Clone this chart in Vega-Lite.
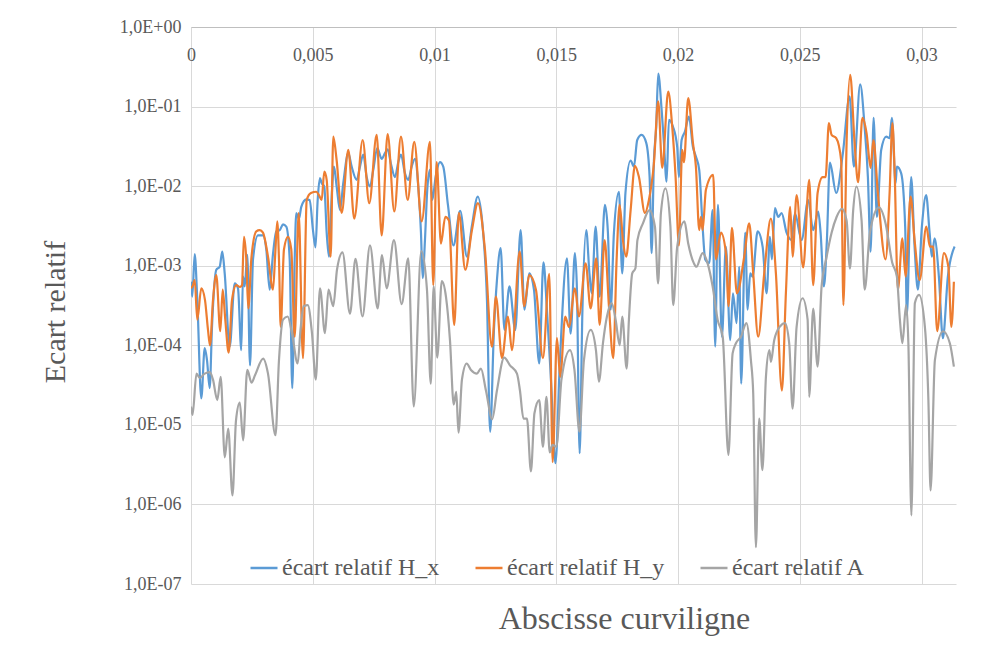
{
  "$schema": "https://vega.github.io/schema/vega-lite/v6.json",
  "width": 765,
  "height": 557,
  "autosize": {"type": "none"},
  "padding": {"left": 191, "top": 27, "right": 33, "bottom": 62},
  "background": "#ffffff",
  "config": {
    "font": "Liberation Serif",
    "view": {"stroke": null},
    "axis": {"labelFont": "Liberation Serif", "titleFont": "Liberation Serif"},
    "legend": {"labelFont": "Liberation Serif"}
  },
  "datasets": {
    "hx": [
      {"x":0,"y":6.3e-4},{"x":0.0000534,"y":4.1e-4},{"x":0.000152,"y":1.4e-3},{"x":0.000259,"y":3.7e-4},{"x":0.000423,"y":2.15e-5},{"x":0.000563,"y":9.2e-5},{"x":0.000657,"y":6.5e-5},{"x":0.000768,"y":2.9e-5},{"x":0.000862,"y":1.7e-4},{"x":0.001039,"y":8.9e-4},{"x":0.001178,"y":9.7e-4},{"x":0.001285,"y":1.5e-3},{"x":0.001384,"y":8.0e-4},{"x":0.001589,"y":9.6e-5},{"x":0.001794,"y":6.0e-4},{"x":0.00193,"y":5.2e-4},{"x":0.002065,"y":8.7e-5},{"x":0.002135,"y":7.3e-4},{"x":0.002205,"y":5.5e-4},{"x":0.002312,"y":1.37e-3},{"x":0.002423,"y":5.6e-5},{"x":0.002546,"y":1.2e-3},{"x":0.002751,"y":2.4e-3},{"x":0.002956,"y":2.4e-3},{"x":0.003092,"y":1.6e-3},{"x":0.003231,"y":5.0e-4},{"x":0.003367,"y":1.4e-3},{"x":0.003502,"y":2.7e-3},{"x":0.003642,"y":2.8e-3},{"x":0.003778,"y":3.3e-3},{"x":0.003913,"y":3.1e-3},{"x":0.004053,"y":1.2e-3},{"x":0.004159,"y":2.9e-5},{"x":0.004258,"y":1.2e-3},{"x":0.004324,"y":4.6e-3},{"x":0.004434,"y":3.9e-3},{"x":0.004529,"y":5.5e-3},{"x":0.004734,"y":6.8e-3},{"x":0.004874,"y":6.7e-3},{"x":0.005009,"y":2.8e-3},{"x":0.005112,"y":1.7e-3},{"x":0.005202,"y":6.7e-3},{"x":0.005297,"y":1.26e-2},{"x":0.005366,"y":1.09e-2},{"x":0.005473,"y":9.9e-3},{"x":0.005572,"y":2.6e-3},{"x":0.005666,"y":1.3e-3},{"x":0.005777,"y":7.4e-3},{"x":0.005872,"y":1.76e-2},{"x":0.005982,"y":9.9e-3},{"x":0.006118,"y":5.0e-3},{"x":0.006253,"y":1.09e-2},{"x":0.006459,"y":2.6e-2},{"x":0.006598,"y":1.76e-2},{"x":0.006804,"y":1.2e-2},{"x":0.006939,"y":1.76e-2},{"x":0.007075,"y":2.5e-2},{"x":0.007214,"y":1.3e-2},{"x":0.00735,"y":9.9e-3},{"x":0.007485,"y":1.6e-2},{"x":0.00765,"y":3.0e-2},{"x":0.00783,"y":2.2e-2},{"x":0.007966,"y":2.6e-2},{"x":0.008076,"y":2.9e-2},{"x":0.008212,"y":1.9e-2},{"x":0.008376,"y":1.3e-2},{"x":0.008512,"y":2.0e-2},{"x":0.008623,"y":2.5e-2},{"x":0.008787,"y":1.45e-2},{"x":0.008922,"y":1.2e-2},{"x":0.009062,"y":1.76e-2},{"x":0.009197,"y":2.2e-2},{"x":0.009333,"y":9.9e-3},{"x":0.009444,"y":2.6e-3},{"x":0.009514,"y":7.0e-4},{"x":0.009608,"y":2.1e-3},{"x":0.009702,"y":9.0e-3},{"x":0.009813,"y":1.6e-2},{"x":0.009908,"y":6.7e-3},{"x":0.010047,"y":1.3e-2},{"x":0.010224,"y":2.0e-2},{"x":0.010359,"y":1.76e-2},{"x":0.010552,"y":5.8e-3},{"x":0.010778,"y":1.8e-3},{"x":0.011053,"y":4.9e-3},{"x":0.011333,"y":1.3e-3},{"x":0.011538,"y":3.2e-3},{"x":0.011776,"y":7.4e-3},{"x":0.011989,"y":2.8e-3},{"x":0.012154,"y":3.7e-4},{"x":0.012285,"y":8.2e-6},{"x":0.012441,"y":1.56e-4},{"x":0.012564,"y":6.6e-4},{"x":0.012716,"y":1.66e-3},{"x":0.012872,"y":1.56e-4},{"x":0.013078,"y":5.5e-4},{"x":0.013316,"y":1.56e-4},{"x":0.013537,"y":2.8e-3},{"x":0.013693,"y":2.8e-4},{"x":0.013891,"y":8.0e-4},{"x":0.014084,"y":5.0e-4},{"x":0.014301,"y":5.9e-5},{"x":0.014474,"y":1.1e-3},{"x":0.014617,"y":2.8e-4},{"x":0.014782,"y":3.7e-5},{"x":0.014966,"y":3.3e-6},{"x":0.015151,"y":6.5e-5},{"x":0.015439,"y":1.24e-3},{"x":0.01559,"y":1.4e-4},{"x":0.015767,"y":1.44e-3},{"x":0.015849,"y":5.0e-4},{"x":0.01596,"y":4.4e-6},{"x":0.016075,"y":2.8e-4},{"x":0.016231,"y":2.8e-3},{"x":0.016362,"y":8.1e-4},{"x":0.016453,"y":4.5e-4},{"x":0.016617,"y":3.1e-3},{"x":0.016781,"y":4.1e-4},{"x":0.016999,"y":5.8e-3},{"x":0.017122,"y":2.6e-3},{"x":0.017233,"y":2.8e-4},{"x":0.017368,"y":2.6e-3},{"x":0.017574,"y":8.5e-3},{"x":0.017709,"y":8.0e-4},{"x":0.017841,"y":8.2e-3},{"x":0.018054,"y":2.1e-2},{"x":0.01819,"y":1.76e-2},{"x":0.018325,"y":3.8e-2},{"x":0.018506,"y":4.4e-2},{"x":0.018695,"y":3.5e-2},{"x":0.018834,"y":1.3e-2},{"x":0.018916,"y":1.44e-3},{"x":0.019011,"y":2.1e-2},{"x":0.019105,"y":5.6e-2},{"x":0.019187,"y":2.6e-1},{"x":0.019327,"y":9.1e-2},{"x":0.019421,"y":3.5e-2},{"x":0.019532,"y":1.14e-2},{"x":0.019627,"y":6.8e-2},{"x":0.019791,"y":5.6e-2},{"x":0.019967,"y":3.1e-2},{"x":0.020037,"y":1.3e-2},{"x":0.020148,"y":3.8e-2},{"x":0.020284,"y":4.85e-2},{"x":0.020448,"y":7.5e-2},{"x":0.020612,"y":3.1e-2},{"x":0.020735,"y":2.35e-2},{"x":0.020871,"y":1.6e-2},{"x":0.02101,"y":3.1e-3},{"x":0.021117,"y":1.2e-3},{"x":0.021281,"y":1.08e-3},{"x":0.021421,"y":5.0e-3},{"x":0.021528,"y":9.6e-5},{"x":0.021639,"y":5.8e-3},{"x":0.021803,"y":1.28e-4},{"x":0.021967,"y":1.74e-3},{"x":0.022144,"y":1.16e-4},{"x":0.022255,"y":4.5e-4},{"x":0.022406,"y":1.9e-4},{"x":0.022513,"y":9.7e-4},{"x":0.022595,"y":3.3e-5},{"x":0.02276,"y":2.6e-3},{"x":0.022858,"y":2.8e-4},{"x":0.022965,"y":8.0e-4},{"x":0.023063,"y":7.3e-4},{"x":0.023269,"y":2.7e-3},{"x":0.023474,"y":1.74e-3},{"x":0.023638,"y":4.5e-4},{"x":0.023774,"y":2.3e-3},{"x":0.023856,"y":1.2e-3},{"x":0.023979,"y":5.3e-3},{"x":0.024115,"y":4.1e-3},{"x":0.024254,"y":4.6e-3},{"x":0.024459,"y":2.6e-3},{"x":0.024665,"y":2.1e-3},{"x":0.0248,"y":4.6e-3},{"x":0.025075,"y":2.1e-3},{"x":0.025346,"y":6.7e-3},{"x":0.025551,"y":2.8e-3},{"x":0.025757,"y":4.8e-3},{"x":0.025855,"y":2.6e-3},{"x":0.025991,"y":5.5e-4},{"x":0.026114,"y":2.1e-3},{"x":0.026237,"y":1.97e-2},{"x":0.026496,"y":8.2e-3},{"x":0.026771,"y":2.6e-2},{"x":0.027046,"y":1.34e-1},{"x":0.027223,"y":1.76e-2},{"x":0.027481,"y":1.9e-1},{"x":0.027662,"y":5.6e-2},{"x":0.027798,"y":1.3e-2},{"x":0.027909,"y":1.5e-3},{"x":0.028032,"y":7.2e-2},{"x":0.028167,"y":4.1e-3},{"x":0.028344,"y":2.85e-2},{"x":0.028549,"y":4.2e-2},{"x":0.028689,"y":4.0e-2},{"x":0.028783,"y":7.2e-2},{"x":0.028935,"y":1.09e-2},{"x":0.028988,"y":1.76e-2},{"x":0.029165,"y":1.45e-2},{"x":0.029329,"y":3.1e-3},{"x":0.029399,"y":2.4e-4},{"x":0.029575,"y":1.3e-2},{"x":0.029715,"y":1.74e-3},{"x":0.02985,"y":5.0e-4},{"x":0.030015,"y":3.1e-3},{"x":0.030191,"y":7.7e-3},{"x":0.030331,"y":2.6e-3},{"x":0.030425,"y":1.3e-3},{"x":0.030536,"y":2.2e-3},{"x":0.030713,"y":7.3e-4},{"x":0.030877,"y":1.23e-4},{"x":0.031082,"y":7.3e-4},{"x":0.031357,"y":1.74e-3}
    ],
    "hy": [
      {"x":0,"y":5.2e-4},{"x":0.000082,"y":5.7e-4},{"x":0.000152,"y":6.6e-4},{"x":0.000259,"y":2.1e-4},{"x":0.000423,"y":5.2e-4},{"x":0.000575,"y":3.7e-4},{"x":0.000698,"y":1.56e-4},{"x":0.00078,"y":1.0e-4},{"x":0.000903,"y":3.7e-4},{"x":0.001039,"y":7.6e-4},{"x":0.001203,"y":1.5e-4},{"x":0.001302,"y":5.0e-4},{"x":0.001408,"y":2.1e-4},{"x":0.001548,"y":8.1e-5},{"x":0.001683,"y":3.7e-4},{"x":0.00186,"y":5.7e-4},{"x":0.002012,"y":5.4e-4},{"x":0.002094,"y":5.7e-4},{"x":0.002176,"y":2.3e-3},{"x":0.002271,"y":1.2e-3},{"x":0.002353,"y":2.9e-4},{"x":0.002476,"y":1.2e-3},{"x":0.002681,"y":2.7e-3},{"x":0.002821,"y":2.8e-3},{"x":0.002956,"y":2.6e-3},{"x":0.003162,"y":1.3e-3},{"x":0.003367,"y":5.0e-4},{"x":0.003461,"y":1.44e-3},{"x":0.003543,"y":3.6e-3},{"x":0.003613,"y":1.2e-3},{"x":0.003683,"y":1.7e-4},{"x":0.003818,"y":1.6e-3},{"x":0.003983,"y":2.3e-3},{"x":0.004118,"y":1.6e-3},{"x":0.004258,"y":1.28e-4},{"x":0.004422,"y":4.6e-3},{"x":0.004599,"y":6.9e-5},{"x":0.004751,"y":6.7e-3},{"x":0.004927,"y":8.2e-3},{"x":0.005145,"y":8.5e-3},{"x":0.005256,"y":7.7e-3},{"x":0.005366,"y":6.7e-3},{"x":0.005473,"y":1.52e-2},{"x":0.005572,"y":1.2e-2},{"x":0.005736,"y":1.3e-3},{"x":0.005843,"y":4.2e-2},{"x":0.005982,"y":2.1e-2},{"x":0.006188,"y":4.6e-3},{"x":0.006459,"y":2.85e-2},{"x":0.006705,"y":3.9e-3},{"x":0.00705,"y":3.8e-2},{"x":0.007321,"y":6.1e-3},{"x":0.007625,"y":4.4e-2},{"x":0.00783,"y":2.4e-3},{"x":0.008076,"y":4.5e-2},{"x":0.008348,"y":4.8e-3},{"x":0.008623,"y":4.2e-2},{"x":0.008898,"y":6.7e-3},{"x":0.009169,"y":3.6e-2},{"x":0.009473,"y":3.6e-3},{"x":0.009813,"y":3.6e-2},{"x":0.009949,"y":5.7e-4},{"x":0.010088,"y":2.0e-2},{"x":0.010265,"y":1.9e-3},{"x":0.010442,"y":4.1e-3},{"x":0.010593,"y":3.7e-3},{"x":0.010811,"y":1.8e-4},{"x":0.011,"y":4.6e-3},{"x":0.011263,"y":8.9e-4},{"x":0.011538,"y":2.8e-3},{"x":0.011784,"y":6.1e-3},{"x":0.012071,"y":1.6e-3},{"x":0.012359,"y":9.6e-5},{"x":0.012523,"y":4.1e-4},{"x":0.01277,"y":6.9e-5},{"x":0.013016,"y":2.3e-4},{"x":0.01318,"y":8.7e-5},{"x":0.013496,"y":1.5e-3},{"x":0.013685,"y":3.1e-4},{"x":0.013891,"y":7.6e-4},{"x":0.014166,"y":5.0e-4},{"x":0.014453,"y":6.9e-5},{"x":0.014712,"y":7.9e-4},{"x":0.014851,"y":3.4e-6},{"x":0.015028,"y":1.23e-4},{"x":0.015163,"y":4.0e-5},{"x":0.015369,"y":2.3e-4},{"x":0.015521,"y":1.7e-4},{"x":0.015767,"y":5.2e-4},{"x":0.015931,"y":2.3e-4},{"x":0.016206,"y":1.07e-3},{"x":0.016412,"y":2.9e-4},{"x":0.016642,"y":1.24e-3},{"x":0.016781,"y":1.8e-4},{"x":0.016986,"y":2.1e-3},{"x":0.017163,"y":3.1e-4},{"x":0.01734,"y":6.9e-5},{"x":0.017479,"y":1.2e-3},{"x":0.017602,"y":5.8e-3},{"x":0.017738,"y":2.1e-3},{"x":0.017873,"y":1.3e-3},{"x":0.018054,"y":5.0e-3},{"x":0.018231,"y":1.8e-2},{"x":0.018395,"y":1.3e-2},{"x":0.018641,"y":4.6e-3},{"x":0.018805,"y":6.7e-3},{"x":0.019011,"y":1.94e-2},{"x":0.019187,"y":1.16e-1},{"x":0.019351,"y":1.7e-2},{"x":0.019598,"y":1.54e-1},{"x":0.019762,"y":5.6e-2},{"x":0.019901,"y":1.3e-2},{"x":0.020037,"y":1.8e-3},{"x":0.020173,"y":2.85e-2},{"x":0.020243,"y":2.0e-2},{"x":0.020419,"y":1.28e-1},{"x":0.020612,"y":3.5e-2},{"x":0.020735,"y":1.76e-2},{"x":0.020871,"y":2.8e-3},{"x":0.020941,"y":4.1e-3},{"x":0.02101,"y":2.8e-3},{"x":0.021146,"y":9.0e-3},{"x":0.021445,"y":1.39e-2},{"x":0.021557,"y":1.2e-3},{"x":0.021762,"y":2.6e-3},{"x":0.021967,"y":1.44e-3},{"x":0.022078,"y":3.1e-4},{"x":0.022213,"y":3.0e-3},{"x":0.022419,"y":4.5e-4},{"x":0.022719,"y":1.3e-3},{"x":0.022924,"y":3.4e-3},{"x":0.023088,"y":8.0e-4},{"x":0.023293,"y":1.28e-4},{"x":0.02354,"y":8.0e-4},{"x":0.023815,"y":3.9e-3},{"x":0.02402,"y":8.0e-4},{"x":0.024266,"y":2.7e-5},{"x":0.02443,"y":4.5e-4},{"x":0.024607,"y":5.5e-3},{"x":0.024706,"y":1.3e-3},{"x":0.02487,"y":7.7e-3},{"x":0.025141,"y":9.5e-4},{"x":0.025387,"y":1.2e-2},{"x":0.025551,"y":5.7e-4},{"x":0.025732,"y":8.2e-3},{"x":0.025937,"y":1.3e-2},{"x":0.026061,"y":1.3e-2},{"x":0.026196,"y":6.2e-2},{"x":0.026307,"y":4.4e-2},{"x":0.026496,"y":4.0e-2},{"x":0.026701,"y":2.1e-2},{"x":0.026792,"y":3.2e-4},{"x":0.026923,"y":3.5e-2},{"x":0.027071,"y":2.5e-1},{"x":0.027251,"y":3.5e-2},{"x":0.027395,"y":1.12e-2},{"x":0.027572,"y":7.2e-2},{"x":0.027744,"y":4.6e-2},{"x":0.027909,"y":1.7e-2},{"x":0.028023,"y":3.8e-2},{"x":0.028208,"y":8.2e-3},{"x":0.028524,"y":1.2e-3},{"x":0.028689,"y":8.2e-3},{"x":0.028804,"y":6.2e-2},{"x":0.028894,"y":1.6e-2},{"x":0.029029,"y":5.0e-4},{"x":0.029214,"y":2.2e-3},{"x":0.029345,"y":7.3e-4},{"x":0.029551,"y":7.4e-3},{"x":0.029715,"y":2.1e-3},{"x":0.029924,"y":6.6e-4},{"x":0.030199,"y":3.1e-3},{"x":0.030343,"y":1.74e-3},{"x":0.030479,"y":1.74e-3},{"x":0.030643,"y":1.5e-4},{"x":0.030918,"y":1.44e-3},{"x":0.031103,"y":9.7e-4},{"x":0.031226,"y":1.7e-4},{"x":0.031329,"y":6.3e-4}
    ],
    "a": [
      {"x":0,"y":1.7e-5},{"x":0.000062,"y":1.33e-5},{"x":0.000226,"y":4.4e-5},{"x":0.000357,"y":3.9e-5},{"x":0.000563,"y":4.4e-5},{"x":0.000772,"y":4.6e-5},{"x":0.000903,"y":3.7e-5},{"x":0.00108,"y":2.05e-5},{"x":0.001219,"y":4.0e-5},{"x":0.001388,"y":3.9e-6},{"x":0.001527,"y":9.0e-6},{"x":0.001704,"y":1.3e-6},{"x":0.001848,"y":1.14e-5},{"x":0.002004,"y":1.9e-5},{"x":0.002139,"y":6.4e-6},{"x":0.002312,"y":4.9e-5},{"x":0.002484,"y":3.4e-5},{"x":0.002628,"y":4.2e-5},{"x":0.002965,"y":6.8e-5},{"x":0.003162,"y":4.4e-5},{"x":0.003469,"y":7.4e-6},{"x":0.003613,"y":6.5e-5},{"x":0.003778,"y":2.1e-4},{"x":0.00397,"y":2.3e-4},{"x":0.004147,"y":1.42e-4},{"x":0.004381,"y":5.9e-5},{"x":0.004496,"y":1.56e-4},{"x":0.004627,"y":3.1e-4},{"x":0.004796,"y":3.2e-4},{"x":0.004968,"y":1.42e-4},{"x":0.005124,"y":3.7e-5},{"x":0.005297,"y":5.2e-4},{"x":0.005502,"y":1.42e-4},{"x":0.005646,"y":5.0e-4},{"x":0.005843,"y":3.1e-4},{"x":0.005995,"y":8.9e-4},{"x":0.006221,"y":1.47e-3},{"x":0.006529,"y":2.5e-4},{"x":0.006754,"y":1.22e-3},{"x":0.007042,"y":2.3e-4},{"x":0.00735,"y":1.8e-3},{"x":0.007666,"y":2.9e-4},{"x":0.007842,"y":1.36e-3},{"x":0.008035,"y":5.2e-4},{"x":0.008335,"y":2.1e-3},{"x":0.008651,"y":3.3e-4},{"x":0.008922,"y":1.24e-3},{"x":0.009148,"y":1.7e-5},{"x":0.009456,"y":1.53e-3},{"x":0.00969,"y":5.0e-4},{"x":0.009846,"y":3.3e-5},{"x":0.009965,"y":5.5e-4},{"x":0.010113,"y":7.0e-5},{"x":0.010298,"y":6.4e-4},{"x":0.01047,"y":4.1e-4},{"x":0.010635,"y":1.16e-4},{"x":0.01079,"y":1.8e-5},{"x":0.010893,"y":2.6e-5},{"x":0.010984,"y":8.0e-6},{"x":0.011127,"y":3.7e-5},{"x":0.01132,"y":5.9e-5},{"x":0.011497,"y":4.9e-5},{"x":0.011743,"y":4.4e-5},{"x":0.011907,"y":5.1e-5},{"x":0.012113,"y":2.7e-5},{"x":0.012371,"y":1.18e-5},{"x":0.012564,"y":2.7e-5},{"x":0.012864,"y":7.0e-5},{"x":0.013098,"y":5.6e-5},{"x":0.013386,"y":4.4e-5},{"x":0.013509,"y":2.7e-5},{"x":0.013652,"y":1.2e-5},{"x":0.013796,"y":1.2e-5},{"x":0.01396,"y":2.6e-6},{"x":0.014104,"y":1.4e-5},{"x":0.014301,"y":2.05e-5},{"x":0.014453,"y":5.3e-6},{"x":0.014597,"y":2.25e-5},{"x":0.014732,"y":4.5e-6},{"x":0.014843,"y":5.6e-6},{"x":0.015007,"y":5.3e-6},{"x":0.015213,"y":3.7e-5},{"x":0.015562,"y":8.7e-5},{"x":0.015747,"y":4.9e-5},{"x":0.015952,"y":8.2e-6},{"x":0.016137,"y":6.5e-5},{"x":0.016416,"y":1.56e-4},{"x":0.016629,"y":8.7e-5},{"x":0.016752,"y":3.5e-5},{"x":0.016917,"y":1.06e-4},{"x":0.017081,"y":2.3e-4},{"x":0.017274,"y":3.4e-4},{"x":0.017438,"y":2.1e-4},{"x":0.017606,"y":1.0e-4},{"x":0.017709,"y":2.3e-4},{"x":0.01789,"y":5.1e-5},{"x":0.017984,"y":2.1e-4},{"x":0.01812,"y":8.0e-4},{"x":0.018251,"y":9.3e-4},{"x":0.018333,"y":2.1e-3},{"x":0.018559,"y":3.4e-3},{"x":0.018826,"y":5.0e-3},{"x":0.019052,"y":3.1e-3},{"x":0.019183,"y":6.0e-4},{"x":0.019298,"y":4.6e-3},{"x":0.019483,"y":9.4e-3},{"x":0.019688,"y":3.1e-3},{"x":0.019803,"y":3.2e-4},{"x":0.019967,"y":1.74e-3},{"x":0.020263,"y":3.6e-3},{"x":0.020419,"y":1.9e-3},{"x":0.020653,"y":1.07e-3},{"x":0.020756,"y":9.7e-4},{"x":0.02101,"y":1.44e-3},{"x":0.021216,"y":1.07e-3},{"x":0.021421,"y":5.5e-4},{"x":0.021626,"y":2.1e-4},{"x":0.021836,"y":1.28e-4},{"x":0.02207,"y":4.2e-6},{"x":0.022242,"y":7.9e-5},{"x":0.022378,"y":1.06e-4},{"x":0.022583,"y":1.28e-4},{"x":0.022809,"y":1.9e-4},{"x":0.022994,"y":6.5e-5},{"x":0.023088,"y":2.5e-5},{"x":0.023199,"y":2.9e-7},{"x":0.023334,"y":1.2e-5},{"x":0.023466,"y":2.7e-6},{"x":0.02361,"y":4.0e-5},{"x":0.023753,"y":8.7e-5},{"x":0.023815,"y":6.2e-5},{"x":0.02395,"y":1.16e-4},{"x":0.024205,"y":1.75e-4},{"x":0.02439,"y":1.9e-4},{"x":0.024566,"y":1.06e-4},{"x":0.024706,"y":1.6e-5},{"x":0.02487,"y":1.7e-4},{"x":0.025116,"y":3.9e-4},{"x":0.025322,"y":2.1e-4},{"x":0.025387,"y":2.25e-5},{"x":0.025551,"y":2.9e-4},{"x":0.025732,"y":5.4e-5},{"x":0.025896,"y":5.5e-4},{"x":0.026093,"y":1.25e-3},{"x":0.026307,"y":2.6e-3},{"x":0.026512,"y":4.1e-3},{"x":0.02673,"y":5.2e-3},{"x":0.026923,"y":3.7e-3},{"x":0.027059,"y":9.2e-4},{"x":0.027194,"y":5.0e-3},{"x":0.027325,"y":9.9e-3},{"x":0.027539,"y":3.7e-3},{"x":0.027666,"y":5.0e-4},{"x":0.02788,"y":2.6e-3},{"x":0.028249,"y":5.4e-3},{"x":0.028524,"y":3.4e-3},{"x":0.028795,"y":1.1e-3},{"x":0.028988,"y":7.3e-4},{"x":0.029112,"y":2.1e-4},{"x":0.029214,"y":1.06e-4},{"x":0.029366,"y":3.2e-4},{"x":0.02946,"y":1.06e-4},{"x":0.029584,"y":7.3e-7},{"x":0.029727,"y":3.4e-4},{"x":0.0299,"y":4.3e-4},{"x":0.030138,"y":1.7e-4},{"x":0.030282,"y":2.05e-5},{"x":0.030372,"y":1.5e-6},{"x":0.030549,"y":6.5e-5},{"x":0.030885,"y":1.5e-4},{"x":0.031163,"y":1.06e-4},{"x":0.031329,"y":5.4e-5}
    ]
  },
  "encoding": {
    "x": {
      "field": "x", "type": "quantitative",
      "scale": {"domain": [0, 0.0314159], "nice": false, "zero": false},
      "axis": {
        "orient": "bottom", "offset": -557,
        "title": "Abscisse curviligne",
        "values": [0, 0.005, 0.01, 0.015, 0.02, 0.025, 0.03],
        "labelExpr": "replace(format(datum.value, '.3~f'), '.', ',')",
        "grid": true, "gridColor": "#d9d9d9", "gridWidth": 1,
        "domain": true, "domainColor": "#bfbfbf", "domainWidth": 1,
        "ticks": false, "tickSize": 0,
        "labelFont": "Liberation Serif", "labelFontSize": 18, "labelColor": "#595959",
        "labelPadding": 19, "labelFlush": false, "labelOverlap": false,
        "titleFont": "Liberation Serif", "titleFontSize": 32, "titleFontWeight": "normal", "titleColor": "#595959",
        "titleX": 433, "titleY": 591, "titleAlign": "center", "titleBaseline": "middle"
      }
    },
    "y": {
      "field": "y", "type": "quantitative",
      "scale": {"type": "log", "domain": [1e-7, 1], "nice": false},
      "axis": {
        "title": "Ecart relatif",
        "values": [1e-7, 1e-6, 1e-5, 1e-4, 1e-3, 1e-2, 1e-1, 1],
        "labelExpr": "datum.value >= 0.5 ? '1,0E+00' : '1,0E-0' + round(-log(datum.value) / LN10)",
        "grid": true, "gridColor": "#d9d9d9", "gridWidth": 1,
        "domain": false, "ticks": false, "tickSize": 0,
        "labelFont": "Liberation Serif", "labelFontSize": 18, "labelColor": "#595959",
        "labelPadding": 10, "labelFlush": false, "labelOverlap": false,
        "titleFont": "Liberation Serif", "titleFontSize": 30, "titleFontWeight": "normal", "titleColor": "#595959",
        "titleX": -136, "titleY": 284.5, "titleAngle": -90, "titleAlign": "center", "titleBaseline": "middle"
      }
    }
  },
  "layer": [
    {
      "data": {"name": "hx"},
      "mark": {"type": "line", "strokeWidth": 2.2, "interpolate": "monotone", "clip": true},
      "encoding": {
        "color": {
          "datum": "écart relatif H_x",
          "scale": {"domain": ["écart relatif H_x", "écart relatif H_y", "écart relatif A"], "range": ["#5B9BD5", "#ED7D31", "#A5A5A5"]},
          "legend": {
            "title": null, "orient": "none", "legendX": 58, "legendY": 526,
            "direction": "horizontal", "symbolType": "stroke", "symbolSize": 729, "symbolStrokeWidth": 2.5,
            "labelFont": "Liberation Serif", "labelFontSize": 24, "labelColor": "#595959",
            "labelOffset": 3, "columnPadding": 30, "padding": 0, "offset": 0
          }
        }
      }
    },
    {
      "data": {"name": "hy"},
      "mark": {"type": "line", "strokeWidth": 2.2, "interpolate": "monotone", "clip": true},
      "encoding": {"color": {"datum": "écart relatif H_y"}}
    },
    {
      "data": {"name": "a"},
      "mark": {"type": "line", "strokeWidth": 2.2, "interpolate": "monotone", "clip": true},
      "encoding": {"color": {"datum": "écart relatif A"}}
    }
  ]
}
